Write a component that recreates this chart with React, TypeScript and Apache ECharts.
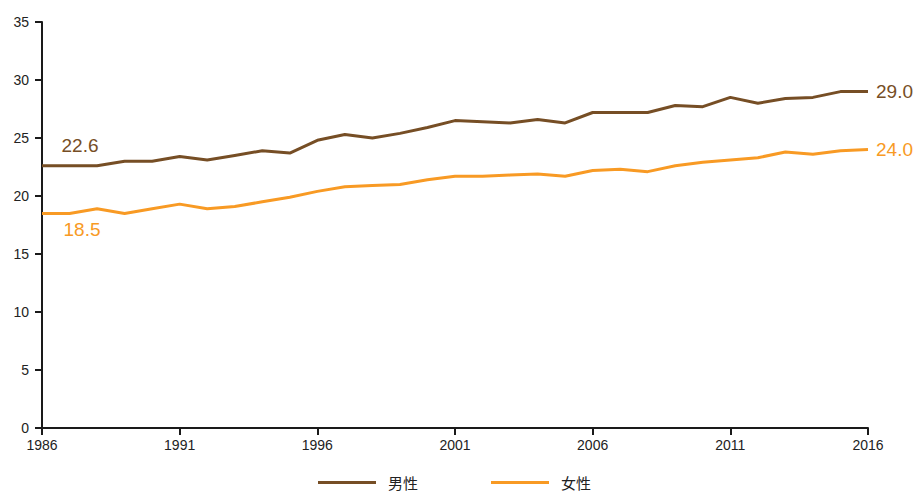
import React, { useEffect, useRef } from "react";
import * as echarts from "echarts";

// Years on the horizontal axis
const years: string[] = [];
for (let y = 1986; y <= 2016; y++) years.push(String(y));

// Series names
const maleName = "男性";
const femaleName = "女性";

// Values per year, 1986–2016
const maleValues = [
  22.6, 22.6, 22.6, 23.0, 23.0, 23.4, 23.1, 23.5, 23.9, 23.7,
  24.8, 25.3, 25.0, 25.4, 25.9, 26.5, 26.4, 26.3, 26.6, 26.3,
  27.2, 27.2, 27.2, 27.8, 27.7, 28.5, 28.0, 28.4, 28.5, 29.0, 29.0,
];
const femaleValues = [
  18.5, 18.5, 18.9, 18.5, 18.9, 19.3, 18.9, 19.1, 19.5, 19.9,
  20.4, 20.8, 20.9, 21.0, 21.4, 21.7, 21.7, 21.8, 21.9, 21.7,
  22.2, 22.3, 22.1, 22.6, 22.9, 23.1, 23.3, 23.8, 23.6, 23.9, 24.0,
];

const maleColor = "#764e25";
const femaleColor = "#f89a24";
const axisColor = "#1a1a1a";
const textColor = "#222222";

type LabelSpec = { position: string; offset: number[] };

// Attach value labels to the first and last points of a series
function withEndLabels(values: number[], color: string, first: LabelSpec, last: LabelSpec) {
  return values.map((v, i) => {
    if (i === 0 || i === values.length - 1) {
      const spec = i === 0 ? first : last;
      return {
        value: v,
        label: {
          show: true,
          position: spec.position,
          offset: spec.offset,
          formatter: (p: any) => Number(p.value).toFixed(1),
          color,
          fontSize: 19,
          fontFamily: "Liberation Sans, Arial, sans-serif",
        },
      };
    }
    return v;
  });
}

export default function App() {
  const ref = useRef<HTMLDivElement>(null);

  useEffect(() => {
    document.body.style.margin = "0";
    if (!ref.current) return;
    const chart = echarts.init(ref.current, undefined, { renderer: "svg" });
    chart.setOption({
      animation: false,
      backgroundColor: "#ffffff",
      grid: { left: 42, right: 50, top: 22, bottom: 65, containLabel: false },
      legend: {
        left: 318,
        top: 475,
        padding: 0,
        itemWidth: 58,
        itemHeight: 3,
        itemGap: 73,
        icon: "rect",
        data: [
          { name: maleName, itemStyle: { color: maleColor } },
          { name: femaleName, itemStyle: { color: femaleColor } },
        ],
        textStyle: {
          color: textColor,
          fontSize: 15,
          fontFamily: "Noto Sans CJK SC, sans-serif",
          padding: [0, 0, 0, 7],
        },
      },
      xAxis: {
        type: "category",
        data: years,
        boundaryGap: false,
        axisLine: { show: true, lineStyle: { color: axisColor, width: 2 } },
        axisTick: { show: true, interval: 4, length: 7, lineStyle: { color: axisColor, width: 2 } },
        axisLabel: {
          interval: 4,
          color: textColor,
          fontSize: 14,
          margin: 10,
          fontFamily: "Liberation Sans, Arial, sans-serif",
        },
        splitLine: { show: false },
      },
      yAxis: {
        type: "value",
        min: 0,
        max: 35,
        interval: 5,
        axisLine: { show: true, lineStyle: { color: axisColor, width: 2 } },
        axisTick: { show: true, length: 7, lineStyle: { color: axisColor, width: 2 } },
        axisLabel: {
          color: textColor,
          fontSize: 14,
          margin: 13,
          fontFamily: "Liberation Sans, Arial, sans-serif",
        },
        splitLine: { show: false },
      },
      series: [
        {
          name: maleName,
          type: "line",
          data: withEndLabels(
            maleValues,
            maleColor,
            { position: "top", offset: [38, -6] },
            { position: "right", offset: [3, 0] }
          ),
          symbol: "circle",
          symbolSize: 0,
          showSymbol: true,
          showAllSymbol: true,
          lineStyle: { color: maleColor, width: 3 },
          itemStyle: { color: maleColor },
          z: 3,
        },
        {
          name: femaleName,
          type: "line",
          data: withEndLabels(
            femaleValues,
            femaleColor,
            { position: "bottom", offset: [40, 2] },
            { position: "right", offset: [3, 0] }
          ),
          symbol: "circle",
          symbolSize: 0,
          showSymbol: true,
          showAllSymbol: true,
          lineStyle: { color: femaleColor, width: 3 },
          itemStyle: { color: femaleColor },
          z: 2,
        },
      ],
    });
    return () => chart.dispose();
  }, []);

  return <div ref={ref} style={{ width: 918, height: 493 }} />;
}
